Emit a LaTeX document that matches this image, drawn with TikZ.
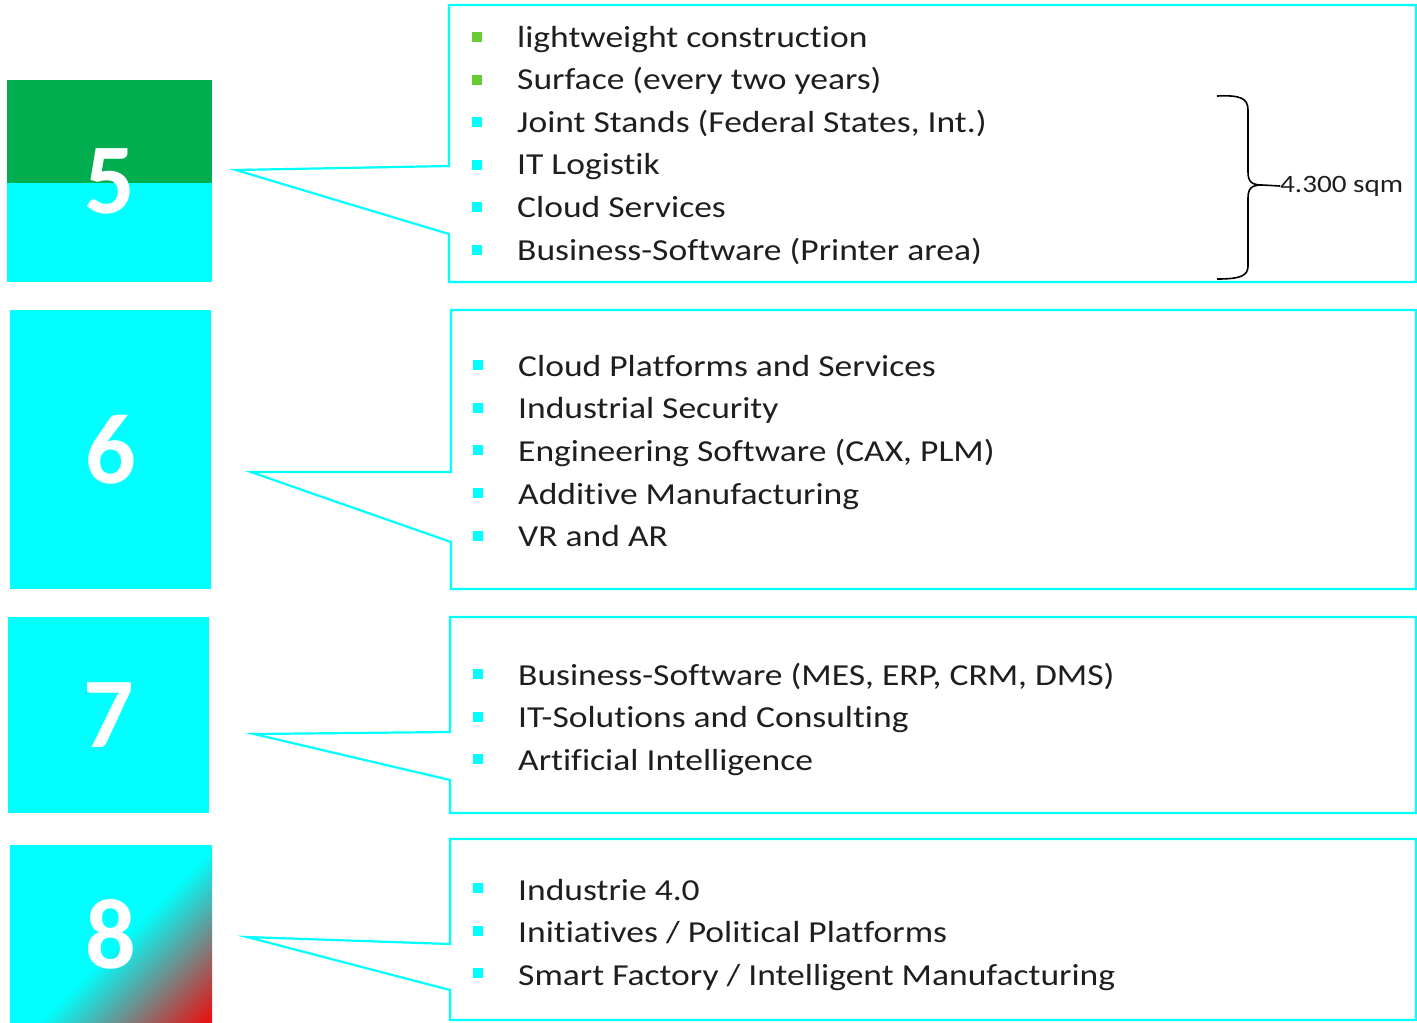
\documentclass[tikz,border=0pt]{standalone}
\usepackage{fontspec}
\setmainfont{Carlito}[FakeStretch=1.165, Ligatures=NoCommon]
\newfontfamily\numberfont{Carlito}
\usetikzlibrary{positioning}
\definecolor{boxcyan}{RGB}{0,255,255}
\definecolor{boxgreen}{RGB}{0,173,79}
\definecolor{bulgreen}{RGB}{102,204,51}
\definecolor{boxred}{RGB}{230,20,20}
\definecolor{itemgray}{RGB}{30,30,30}
\pgfdeclarehorizontalshading{cyantored}{100bp}{color(0bp)=(boxcyan); color(53bp)=(boxcyan); color(84bp)=(boxred); color(100bp)=(boxred)}
\tikzset{
	numbox/.style={inner sep=0, text=white, fill=boxcyan,
	font=\numberfont\fontsize{100}{100}\selectfont\bfseries},
	callout/.style={draw=boxcyan, line width=2.2pt, line join=miter},
	itemtext/.style={anchor=base west, inner sep=0, text=itemgray,
	font=\fontsize{30.5}{36}\selectfont},
	bullet/.style={minimum width=10pt, minimum height=10pt, inner sep=0, fill=boxcyan},
}

\begin{document}
\begin{tikzpicture}[x=1pt,y=-1pt]
	\useasboundingbox (0,0) rectangle (1417,1023);
	% number boxes
	\node[numbox,
	minimum width=205pt,
	minimum height=202pt,
	path picture={\fill[boxgreen] (path picture bounding box.north west) rectangle ([yshift=-103pt]path picture bounding box.north east);}] (num5) at (109.5,181) {5};
	\node[numbox,
	minimum width=201pt,
	minimum height=279pt] (num6) at (110.5,449.5) {6};
	\node[numbox,
	minimum width=201pt,
	minimum height=196pt] (num7) at (108.5,715) {7};
	\node[numbox,
	minimum width=202pt,
	minimum height=178pt,
	shading=cyantored,
	shading angle=-45] (num8) at (111,934) {8};
	% callouts
	\draw[callout] (449,5) -- (1416,5) -- (1416,282) -- (449,282) -- (449,234) -- (236,170) -- (449,166) -- cycle;
	\draw[callout] (451,310) -- (1416,310) -- (1416,589) -- (451,589) -- (451,542) -- (251,472) -- (451,472) -- cycle;
	\draw[callout] (450,617) -- (1416,617) -- (1416,813) -- (450,813) -- (450,780) -- (254,734) -- (450,732) -- cycle;
	\draw[callout] (450,839) -- (1416,839) -- (1416,1020) -- (450,1020) -- (450,990) -- (247,937) -- (450,944) -- cycle;
	% items
	\foreach \txt [count=\i] in {lightweight construction, Surface (every two years),
		{Joint Stands (Federal States, Int.)}, IT Logistik, Cloud Services,
		Business-Software (Printer area)}
		\node[itemtext] (t5-\i) at (517, {47+(\i-1)*42.6}) {\txt};
	\foreach \i/\c in {1/bulgreen, 2/bulgreen, 3/boxcyan, 4/boxcyan, 5/boxcyan, 6/boxcyan}
		\node[bullet, fill=\c] (b5-\i) at (477, {37+(\i-1)*42.6}) {};
	\foreach \txt [count=\i] in {Cloud Platforms and Services, Industrial Security,
		{Engineering Software (CAX, PLM)}, Additive Manufacturing, VR and AR}
		{\node[itemtext] (t6-\i) at (518, {376+(\i-1)*42.7}) {\txt};
		\node[bullet] (b6-\i) at (478, {365+(\i-1)*42.7}) {};}
	\foreach \txt [count=\i] in {{Business-Software (MES, ERP, CRM, DMS)},
		IT-Solutions and Consulting, Artificial Intelligence}
		{\node[itemtext] (t7-\i) at (518, {685+(\i-1)*42.6}) {\txt};
		\node[bullet] (b7-\i) at (478, {674+(\i-1)*42.6}) {};}
	\foreach \txt [count=\i] in {Industrie 4.0, Initiatives / Political Platforms,
		Smart Factory / Intelligent Manufacturing}
		{\node[itemtext] (t8-\i) at (518, {900+(\i-1)*42.6}) {\txt};
		\node[bullet] (b8-\i) at (478, {888+(\i-1)*42.6}) {};}
	% brace
	\draw[line width=1.6pt] (1217,96) .. controls (1240,95) and (1248,98) .. (1248,110)
	-- (1248,172) .. controls (1248,182) and (1252,185) .. (1262,185)
	.. controls (1252,185) and (1248,188) .. (1248,198)
	-- (1248,266) .. controls (1248,276) and (1240,279) .. (1217,279);
	\coordinate (bracetip) at (1262,185);
	\node[inner sep=0, anchor=west, text=itemgray,
	font=\fontsize{25}{30}\selectfont] (sqm) at (1280,186) {4.300 sqm};
	\draw[line width=1.6pt] (bracetip) -- (sqm.west);
\end{tikzpicture}
\end{document}
